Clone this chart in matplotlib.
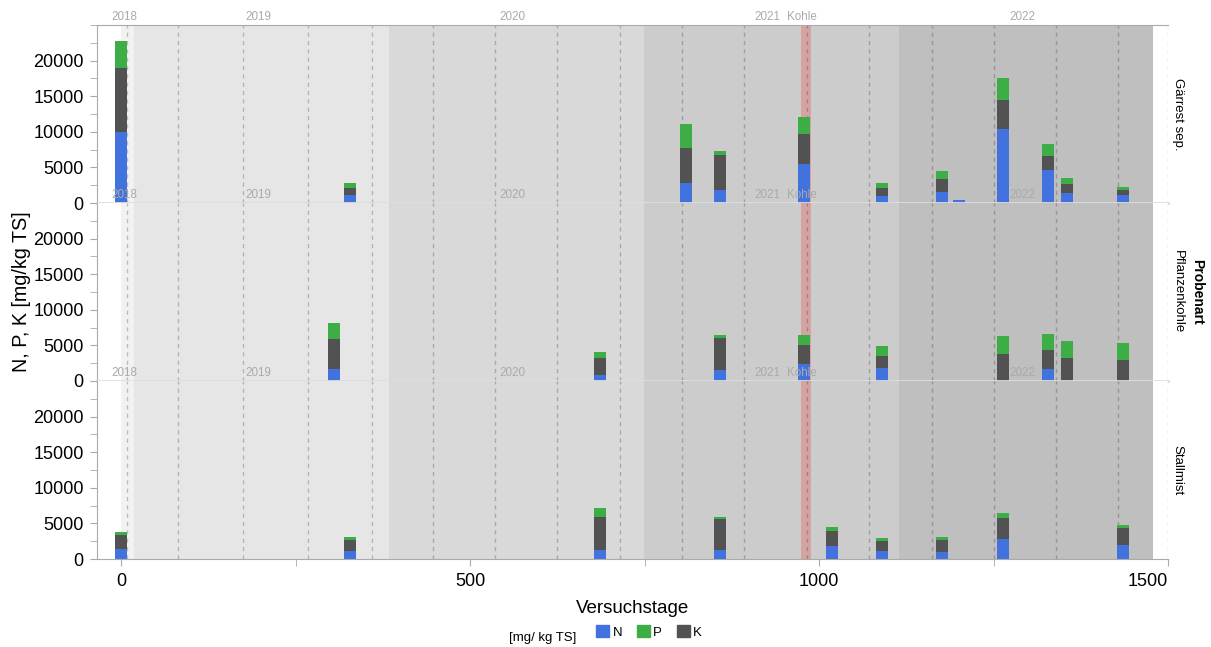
import numpy as np
import matplotlib.pyplot as plt
from matplotlib.patches import Patch
from matplotlib.ticker import MultipleLocator

plt.rcParams['font.family'] = ['Liberation Sans', 'DejaVu Sans']

# --- data ---
panels = ['Gärrest sep.', 'Pflanzenkohle', 'Stallmist']

gar_days = [0, 328, 809, 858, 978, 1090, 1176, 1200, 1263, 1328, 1355, 1435]
gar_N = [10000, 1130, 2820, 1830, 5490, 990, 1550, 420, 10420, 4650, 1410, 1130]
gar_K = [9000, 990, 4930, 4930, 4230, 1130, 1830, 0, 4080, 1970, 1270, 700]
gar_P = [3800, 700, 3380, 560, 2390, 700, 1130, 0, 3100, 1690, 850, 420]

pfl_days = [305, 686, 858, 978, 1090, 1263, 1328, 1355, 1435]
pfl_N = [1690, 850, 1550, 2390, 1830, 0, 1690, 0, 0]
pfl_K = [4230, 2390, 4510, 2680, 1690, 3800, 2680, 3240, 2960]
pfl_P = [2250, 850, 420, 1410, 1410, 2540, 2250, 2390, 2390]

sta_days = [0, 328, 686, 858, 1018, 1090, 1176, 1263, 1435]
sta_N = [1410, 1130, 1270, 1270, 1830, 1130, 990, 2820, 1970]
sta_K = [1970, 1550, 4650, 4370, 2110, 1410, 1690, 2960, 2390]
sta_P = [420, 420, 1270, 280, 560, 420, 420, 700, 420]

years = ['2018', '2019', '2020', '2021', '2022']
year_start = [0, 18, 383, 749, 1114]
year_end = [18, 383, 749, 1114, 1478]
year_bg = ['#f2f2f2', '#e6e6e6', '#d9d9d9', '#cccccc', '#bfbfbf']

kohle_start, kohle_end = 974, 988
grid_days = [8, 81, 174, 268, 359, 447, 536, 625, 714, 803, 892, 982,
             1072, 1162, 1250, 1339, 1429, 1500]

cN, cP, cK = '#4272dd', '#3cae45', '#525252'
data = [(gar_days, gar_N, gar_K, gar_P),
        (pfl_days, pfl_N, pfl_K, pfl_P),
        (sta_days, sta_N, sta_K, sta_P)]

W, H = 1211, 647
fig = plt.figure(figsize=(W / 100, H / 100), dpi=100)
left, right, top, ph = 97, 1168, 25, 178

axes = []
for i, (days, N, K, P) in enumerate(data):
    y0 = 1 - (top + (i + 1) * ph) / H
    ax = fig.add_axes([left / W, y0, (right - left) / W, ph / H])
    axes.append(ax)
    ax.set_xlim(-35, 1500)
    ax.set_ylim(0, 25000)
    ax.set_facecolor('white')

    for s, e, c in zip(year_start, year_end, year_bg):
        ax.axvspan(s, e, color=c, lw=0, zorder=0)
    ax.axvspan(kohle_start, kohle_end, color='red', alpha=0.2, lw=0, zorder=0.5)
    for d in grid_days:
        ax.axvline(d, color='black', alpha=0.22, lw=1, ls=(0, (3, 3)), zorder=1)

    N = np.array(N); K = np.array(K); P = np.array(P)
    ax.bar(days, N, width=17, color=cN, zorder=2, lw=0)
    ax.bar(days, K, width=17, bottom=N, color=cK, zorder=2, lw=0)
    ax.bar(days, P, width=17, bottom=N + K, color=cP, zorder=2, lw=0)

    # year labels above each panel
    for j, yr in enumerate(years):
        xc = (year_start[j] + year_end[j]) / 2 - 5
        ax.text(xc, 1.045, yr, transform=ax.get_xaxis_transform(), ha='center',
                va='center', fontsize=8.4, color='#aaaaaa', clip_on=False, zorder=5)
    ax.text((kohle_start + kohle_end) / 2 - 5, 1.045, 'Kohle',
            transform=ax.get_xaxis_transform(), ha='center', va='center',
            fontsize=8.4, color='#aaaaaa', clip_on=False, zorder=5)

    ax.set_yticks([0, 5000, 10000, 15000, 20000])
    ax.yaxis.set_minor_locator(MultipleLocator(2500))
    ax.tick_params(axis='y', which='both', length=5, color='#aaaaaa',
                   labelsize=13, pad=4.5)

    ax.spines['right'].set_visible(False)
    ax.spines['left'].set_color('#aaaaaa')
    if i == 0:
        ax.spines['top'].set_color('#aaaaaa')
    else:
        ax.spines['top'].set_visible(False)
    if i < 2:
        ax.spines['bottom'].set_color('#dedede')
        ax.spines['bottom'].set_linewidth(2)
        ax.tick_params(axis='x', which='both', bottom=False, labelbottom=False)
    else:
        ax.spines['bottom'].set_color('#aaaaaa')
        ax.set_xticks([0, 500, 1000, 1500])
        ax.xaxis.set_minor_locator(MultipleLocator(250))
        ax.tick_params(axis='x', which='both', length=5, color='#aaaaaa',
                       labelsize=13, pad=5)
        labs = ax.get_xticklabels()
        labs[-1].set_ha('right')
        ax.set_xlabel('Versuchstage', fontsize=13.5, labelpad=7)

    ax.text(1.0035, 0.5, panels[i], transform=ax.transAxes, rotation=-90,
            ha='left', va='center', fontsize=9.5)

fig.text(22 / W, 1 - 292 / H, 'N, P, K [mg/kg TS]', rotation=90, ha='center',
         va='center', fontsize=14.2)
fig.text(1197 / W, 1 - 292 / H, 'Probenart', rotation=-90, ha='center',
         va='center', fontsize=10, fontweight='bold')

fig.text(543 / W, 1 - 638 / H, '[mg/ kg TS]', ha='center', va='center', fontsize=9.5)
handles = [Patch(color=cN, label='N'), Patch(color=cP, label='P'),
           Patch(color=cK, label='K')]
fig.legend(handles=handles, loc='center left', bbox_to_anchor=(596 / W, 1 - 632 / H),
           ncol=3, frameon=False, fontsize=9.5, handlelength=1.0, handleheight=1.0,
           handletextpad=0.25, columnspacing=1.1, borderpad=0, borderaxespad=0)

fig.savefig('out.png', dpi=100)
